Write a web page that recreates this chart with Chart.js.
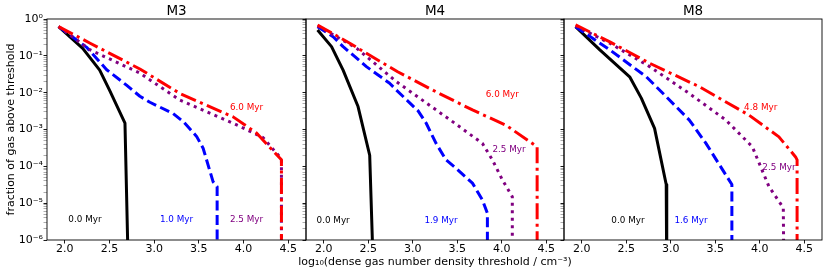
<!DOCTYPE html>
<html><head><meta charset="utf-8">
<script src="https://cdn.jsdelivr.net/npm/chart.js@4"></script>
<style>
html,body{margin:0;padding:0;background:#fff;}
#wrap{position:relative;width:830px;height:277px;overflow:hidden;background:#fff;}
#wrap canvas{position:absolute;left:0;top:0;}
</style></head><body>
<div id="wrap">
<canvas id="c1" width="830" height="277"></canvas>
<canvas id="c2" width="830" height="277"></canvas>
<canvas id="c3" width="830" height="277"></canvas>
</div>
<script>
// ---------- data ----------
const panelTitles = ['M3', 'M4', 'M8'];
const xTickValues = [2.0, 2.5, 3.0, 3.5, 4.0, 4.5];
const yMajorValues = [1e-6, 1e-5, 1e-4, 1e-3, 1e-2, 1e-1, 1];
const yMajorLabels = ['10⁻⁶', '10⁻⁵', '10⁻⁴', '10⁻³', '10⁻²', '10⁻¹', '10⁰'];
const yAxisTitle = 'fraction of gas above threshold';
const xAxisTitle = 'log₁₀(dense gas number density threshold / cm⁻³)';

// M3
const m3_00_x = [1.93, 2.20, 2.39, 2.50, 2.673, 2.712];
const m3_00_y = [0.62, 0.16, 0.041, 0.0117, 1.5e-3, 1e-7];
const m3_10_x = [1.93, 2.244, 2.468, 2.69, 2.84, 2.952, 3.213, 3.33, 3.475, 3.548, 3.66, 3.705, 3.705];
const m3_10_y = [0.62, 0.17, 0.042, 0.016, 8e-3, 5.5e-3, 2.7e-3, 1.6e-3, 6.5e-4, 3.1e-4, 3.8e-5, 2.8e-5, 1e-7];
const m3_25_x = [1.93, 2.283, 2.84, 3.288, 3.884, 4.22, 4.406, 4.425, 4.425];
const m3_25_y = [0.62, 0.145, 0.034, 6.3e-3, 1.48e-3, 6.0e-4, 1.8e-4, 1.5e-4, 1e-7];
const m3_60_x = [1.93, 2.283, 2.84, 3.288, 3.884, 4.146, 4.425, 4.425];
const m3_60_y = [0.62, 0.22, 0.044, 9.5e-3, 2.2e-3, 8.0e-4, 1.5e-4, 1e-7];
const m3NoteText = ['0.0 Myr', '1.0 Myr', '2.5 Myr', '6.0 Myr'];
const m3NoteX = [2.225, 3.25, 4.034, 4.034];
const m3NoteY = [3.5e-6, 3.5e-6, 3.5e-6, 3.8e-3];

// M4
const m4_00_x = [1.93, 2.087, 2.217, 2.385, 2.516, 2.559];
const m4_00_y = [0.50, 0.178, 0.041, 4.2e-3, 2.0e-4, 1e-7];
const m4_19_x = [1.93, 2.105, 2.217, 2.479, 2.74, 2.815, 3.06, 3.15, 3.262, 3.374, 3.486, 3.671, 3.783, 3.839, 3.839];
const m4_19_y = [0.62, 0.33, 0.178, 0.051, 0.018, 0.0118, 3.2e-3, 1.5e-3, 4.2e-4, 1.5e-4, 8.9e-5, 3.5e-5, 1.22e-5, 5.3e-6, 1e-7];
const m4_25_x = [1.93, 2.37, 2.815, 3.262, 3.41, 3.783, 3.895, 4.007, 4.119, 4.119];
const m4_25_y = [0.65, 0.16, 0.02, 3.4e-3, 1.9e-3, 4.2e-4, 1.5e-4, 4.3e-5, 1.5e-5, 1e-7];
const m4_60_x = [1.93, 2.292, 2.479, 2.83, 3.28, 3.671, 4.045, 4.398, 4.398];
const m4_60_y = [0.69, 0.22, 0.117, 0.037, 0.01, 3.4e-3, 1.32e-3, 3.4e-4, 1e-7];
const m4NoteText = ['0.0 Myr', '1.9 Myr', '2.5 Myr', '6.0 Myr'];
const m4NoteX = [2.105, 3.318, 4.082, 4.007];
const m4NoteY = [3.3e-6, 3.3e-6, 2.75e-4, 8.7e-3];

// M8
const m8_00_x = [1.93, 2.203, 2.538, 2.669, 2.818, 2.949, 2.955];
const m8_00_y = [0.62, 0.145, 0.027, 7.1e-3, 1.07e-3, 3.2e-5, 1e-7];
const m8_16_x = [1.93, 2.315, 2.725, 2.949, 3.209, 3.396, 3.687, 3.687];
const m8_16_y = [0.62, 0.145, 0.027, 7.8e-3, 1.8e-3, 4.2e-4, 3.2e-5, 1e-7];
const m8_25_x = [1.93, 2.315, 2.762, 3.209, 3.62, 3.917, 4.104, 4.265, 4.272];
const m8_25_y = [0.65, 0.22, 0.051, 9.5e-3, 1.8e-3, 3.4e-4, 2.8e-5, 7.5e-6, 1e-7];
const m8_48_x = [1.93, 2.315, 2.762, 3.321, 3.88, 4.216, 4.403, 4.42, 4.42];
const m8_48_y = [0.69, 0.24, 0.063, 0.0145, 2.45e-3, 6.3e-4, 1.8e-4, 1.5e-4, 1e-7];
const m8NoteText = ['0.0 Myr', '1.6 Myr', '2.5 Myr', '4.8 Myr'];
const m8NoteX = [2.519, 3.228, 4.216, 4.011];
const m8NoteY = [3.3e-6, 3.3e-6, 8.9e-5, 3.8e-3];

// ---------- styles ----------
const FONT = "'DejaVu Sans', sans-serif";
const SERIES_COLORS = ['#000000', '#0000ff', '#800080', '#ff0000'];
const SERIES_DASHES = [[], [10, 4.5], [3, 4.5], [16, 4.5, 3, 4.5]];
const PLOT_LEFT = [47, 306, 564];
const PLOT_RIGHT = [306, 564, 822];
const CANVAS_W = 830;

function pairs(xs, ys) { return xs.map((x, i) => ({ x: x, y: ys[i] })); }

function yTickList() {
  const t = [];
  for (let k = 0; k < yMajorValues.length - 1; k++) {
    for (let m = 1; m < 10; m++) t.push({ value: m * yMajorValues[k], major: m === 1 });
  }
  t.push({ value: yMajorValues[yMajorValues.length - 1], major: true });
  return t;
}
function yLabel(v) {
  for (let i = 0; i < yMajorValues.length; i++) {
    if (Math.abs(Math.log10(v) - Math.log10(yMajorValues[i])) < 1e-6) return yMajorLabels[i];
  }
  return '';
}

const panelDecor = {
  id: 'panelDecor',
  afterDatasetsDraw(chart, args, opts) {
    const { ctx, chartArea: a, scales } = chart;
    ctx.save();
    ctx.strokeStyle = '#000';
    ctx.lineWidth = 0.9;
    ctx.strokeRect(a.left, a.top, a.right - a.left, a.bottom - a.top);
    ctx.font = '8.8px ' + FONT;
    ctx.textAlign = 'center';
    ctx.textBaseline = 'middle';
    const nt = opts.noteText, nx = opts.noteX, ny = opts.noteY;
    for (let i = 0; i < nt.length; i++) {
      ctx.fillStyle = SERIES_COLORS[i];
      ctx.fillText(nt[i], scales.x.getPixelForValue(nx[i]), scales.y.getPixelForValue(ny[i]));
    }
    if (opts.showXTitle) {
      ctx.font = '11px ' + FONT;
      ctx.fillStyle = '#000';
      ctx.fillText(xAxisTitle, (a.left + a.right) / 2, a.bottom + 22);
    }
    ctx.restore();
  }
};

function makePanel(id, p, series, notes) {
  const first = p === 0;
  const yW = first ? 47 : 4;
  const datasets = series.map((s, i) => ({
    label: s.label,
    data: pairs(s.x, s.y),
    borderColor: SERIES_COLORS[i],
    backgroundColor: SERIES_COLORS[i],
    borderWidth: 3,
    borderDash: SERIES_DASHES[i],
    borderJoinStyle: 'round',
    pointRadius: 0,
    tension: 0,
    fill: false,
    clip: 0,
    order: 3 - i
  }));
  return new Chart(document.getElementById(id), {
    type: 'line',
    data: { datasets: datasets },
    plugins: [panelDecor],
    options: {
      responsive: false,
      animation: false,
      devicePixelRatio: 1,
      events: [],
      layout: { padding: { left: PLOT_LEFT[p] - yW, right: CANVAS_W - PLOT_RIGHT[p], top: 0, bottom: 0 } },
      plugins: {
        legend: { display: false },
        tooltip: { enabled: false },
        title: {
          display: true, text: panelTitles[p], fullSize: false, color: '#000',
          font: { family: FONT, size: 13.5, weight: 'normal', lineHeight: 1.1 },
          padding: { top: 4.15, bottom: 0 }
        },
        panelDecor: { noteText: notes.text, noteX: notes.x, noteY: notes.y, showXTitle: p === 1 }
      },
      scales: {
        x: {
          type: 'linear', min: 1.80, max: 4.70,
          afterBuildTicks: (s) => { s.ticks = xTickValues.map(v => ({ value: v })); },
          afterFit: (s) => { s.height = 37; },
          border: { display: false },
          grid: { drawOnChartArea: false, drawTicks: true, tickLength: 3.5, tickColor: '#000', tickWidth: 0.9 },
          ticks: {
            autoSkip: false, maxRotation: 0, padding: 0, color: '#000',
            font: { family: FONT, size: 11, lineHeight: 1 },
            callback: (v) => Number(v).toFixed(1)
          }
        },
        y: {
          type: 'logarithmic', min: 1e-6, max: 1,
          afterBuildTicks: (s) => { s.ticks = yTickList(); },
          afterFit: (s) => { s.width = yW; },
          border: { display: false },
          grid: {
            drawOnChartArea: false, drawTicks: true, tickLength: 3.5,
            tickColor: (c) => (c.tick && c.tick.major) ? '#000' : 'rgba(0,0,0,0.55)',
            tickWidth: (c) => (c.tick && c.tick.major) ? 0.9 : 0.6
          },
          ticks: {
            display: first, autoSkip: false, padding: 0.5, color: '#000',
            font: { family: FONT, size: 11, lineHeight: 1.2 },
            callback: (v) => yLabel(v)
          },
          title: {
            display: first, text: yAxisTitle, color: '#000',
            font: { family: FONT, size: 11, lineHeight: 1.2 },
            padding: { top: 4.4, bottom: 0 }
          }
        }
      }
    }
  });
}

makePanel('c1', 0, [
  { label: '0.0 Myr', x: m3_00_x, y: m3_00_y },
  { label: '1.0 Myr', x: m3_10_x, y: m3_10_y },
  { label: '2.5 Myr', x: m3_25_x, y: m3_25_y },
  { label: '6.0 Myr', x: m3_60_x, y: m3_60_y }
], { text: m3NoteText, x: m3NoteX, y: m3NoteY });

makePanel('c2', 1, [
  { label: '0.0 Myr', x: m4_00_x, y: m4_00_y },
  { label: '1.9 Myr', x: m4_19_x, y: m4_19_y },
  { label: '2.5 Myr', x: m4_25_x, y: m4_25_y },
  { label: '6.0 Myr', x: m4_60_x, y: m4_60_y }
], { text: m4NoteText, x: m4NoteX, y: m4NoteY });

makePanel('c3', 2, [
  { label: '0.0 Myr', x: m8_00_x, y: m8_00_y },
  { label: '1.6 Myr', x: m8_16_x, y: m8_16_y },
  { label: '2.5 Myr', x: m8_25_x, y: m8_25_y },
  { label: '4.8 Myr', x: m8_48_x, y: m8_48_y }
], { text: m8NoteText, x: m8NoteX, y: m8NoteY });
</script>
</body></html>
